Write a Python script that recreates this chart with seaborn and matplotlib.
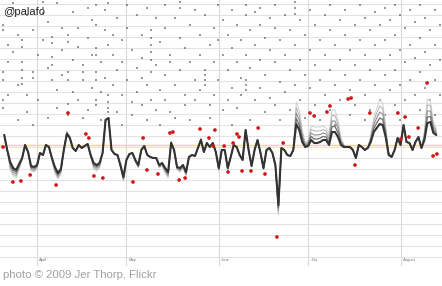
import numpy as np
import pandas as pd
import matplotlib
matplotlib.use("Agg")
import matplotlib.pyplot as plt
import seaborn as sns

# ---- data ----
start_day = -11  # days relative to April 1
line_values = [131,116,104,98,96,102,108,121,114,100,
               99,101,113,111,121,119,108,99,93,97,
               116,132,128,118,115,121,118,120,122,111,
               103,101,103,113,146,148,116,112,111,101,
               89,106,112,113,106,101,116,120,111,109,
               108,108,101,103,98,94,123,116,99,98,
               101,94,109,111,110,118,126,114,123,119,
               123,114,98,116,116,98,109,121,119,111,
               106,136,116,100,116,126,113,98,116,118,
               113,101,61,118,116,111,110,116,142,136,
               124,119,120,126,123,123,124,126,126,121,
               134,134,129,121,119,119,119,116,108,121,
               119,116,118,124,134,138,142,141,129,111,
               109,116,128,121,141,124,123,116,124,129,
               118,126,143,144,133,131]
fan_spread = [0,0,-8,-8,-8,-5,-2,0,0,-5,
              -5,-4,0,0,0,0,-2,-6,-6,-5,
              0,3,2,0,0,0,0,0,0,-2,
              -6,-6,-5,0,0,0,0,0,0,-3,
              -4,0,0,0,-2,-3,0,0,0,0,
              0,0,-3,-3,-5,-6,2,0,-3,-4,
              -3,-4,0,0,0,0,2,0,0,0,
              0,0,-3,0,0,-2,0,0,0,0,
              0,0,0,0,0,0,0,-2,0,0,
              0,-3,-10,0,0,0,0,0,22,20,
              12,4,6,14,16,16,15,14,12,12,
              22,22,17,7,2,0,0,0,0,0,
              0,0,0,7,14,20,24,22,11,3,
              0,0,0,0,0,0,0,0,0,0,
              0,9,24,22,11,6]
baseline_value = 121

red_days = [-11.4,-8.1,-5.4,-2.3,6.4,10.4,16.4,17.4,19.1,22.1,32.2,35.6,36.9,40.6,
            44.6,45.6,47.7,49.7,54.7,57.7,59.7,59.1,62.8,64.1,67.1,67.8,65.8,68.8,
            71.8,74.2,76.5,80.5,82.6,91.6,93.0,97.3,98.3,104.4,105.4,106.7,111.7,
            121.1,123.5,122.1,124.8,127.9,130.9,132.9,134.2]
red_values = [119,84,85,91,81,153,132,128,90,88,84,128,96,92,
              133,134,86,88,137,128,136,120,120,94,132,129,123,95,
              95,138,92,29,123,153,150,154,160,167,168,101,153,
              153,149,127,129,138,183,110,112]

dot_columns = [
    (-11.4,[241,236,194,186,166,158]), (-9.7,[221,204,171]), (-8.1,[263,258,214]),
    (-6.4,[231,181,146]), (-5.0,[226,219,204,196,188,182]), (-3.4,[251,171,154]),
    (-1.3,[236,194,188,141]), (0.3,[211,166]), (2.0,[264,258,253,226]),
    (3.7,[244,198,148]), (5.0,[229,223,209,201,186]), (6.7,[263,176,158]),
    (8.4,[238,216,191]), (10.4,[231,224,194,186,162,151]), (12.1,[254,206,174]),
    (13.8,[238,219,166]), (15.4,[201,194,186,148]), (17.1,[258,228,156]),
    (18.5,[246,211,178]), (19.8,[261,241,218,211,194,186,166,161]), (21.5,[204,174,146]),
    (22.8,[256,236,188]), (23.8,[263,221,171,164,158,154]), (25.5,[231,211,181]),
    (26.8,[248,196,154]), (28.5,[226,204,171,141]), (30.2,[261,238,186]),
    (31.9,[216,164,151]), (33.6,[251,198,174]), (35.2,[231,208,188,161]),
    (36.9,[258,181,146]), (38.3,[236,228,221,214,206,194,166]), (39.9,[248,201,156]),
    (41.3,[224,176,141]), (43.0,[261,238,191,166]), (44.6,[211,204,154]),
    (46.3,[248,181,148]), (48.0,[264,258,228,196]), (49.7,[218,171,161]),
    (51.3,[241,204,146]), (53.0,[256,186,166]), (54.7,[231,211,176]),
    (56.4,[251,196,191,186,181]), (58.1,[221,161,148]), (59.4,[238,204,171]),
    (60.7,[261,226,186]), (62.4,[246,211,156]), (64.1,[231,196,166]),
    (65.4,[256,218,178,141]), (67.1,[241,204,158]), (68.5,[226,188,171]),
    (70.1,[261,251,211,186,181,176]), (71.5,[236,198,146]), (73.2,[254,221,166]),
    (74.8,[258,241,206,178]), (76.5,[228,191,154]), (78.2,[248,216,168]),
    (79.9,[261,238,204,161]), (81.5,[226,184,146]), (83.2,[251,211,174]),
    (84.9,[236,196,156]), (86.6,[264,258,252,221,181]), (88.3,[246,206,166]),
    (89.9,[231,191,148]), (91.6,[256,216,178]), (93.3,[241,201,161]),
    (95.0,[226,186,146]), (96.6,[251,211,171]), (98.3,[261,236,196,156]),
    (100.0,[221,181,141]), (101.7,[246,206,166]), (103.4,[256,231,191]),
    (105.0,[216,176,151]), (106.7,[241,201,161]), (108.4,[261,226,186]),
    (110.1,[248,211,171,146]), (111.7,[236,196,156]), (113.4,[254,221,181]),
    (115.1,[241,206,166]), (116.8,[258,226,191,151]), (118.5,[246,211,176]),
    (120.1,[261,231,196,161]), (121.8,[251,216,181,146]), (123.5,[238,204,166]),
    (125.2,[256,221,186]), (126.8,[244,208,171]), (128.5,[261,228,194,156]),
    (130.2,[248,214,178]), (131.9,[236,201,166]), (133.6,[256,221,186,151]),
    (135.2,[241,206,171]),
]

month_names = ["April", "May", "June", "July", "August"]
month_days = [0, 30, 61, 91, 122]

# ---- build frames ----
days = np.arange(start_day, start_day + len(line_values))
assert len(fan_spread) == len(line_values)
vals = np.array(line_values, float)
fan = np.array(fan_spread, float)
rows = []
for k in range(5):
    for d, v, f in zip(days, vals, fan):
        rows.append({"day": d, "value": v + f * (4 - k) / 4.0, "layer": k})
lines_df = pd.DataFrame(rows)

dot_x, dot_y = [], []
for d, ys in dot_columns:
    for y in ys:
        dot_x.append(d); dot_y.append(y)
dots_df = pd.DataFrame({"day": dot_x, "value": dot_y})
red_df = pd.DataFrame({"day": red_days, "value": red_values})

# ---- plot ----
sns.set_style("white")
plt.rcParams['font.family'] = ['Liberation Sans', 'DejaVu Sans']
fig = plt.figure(figsize=(4.42, 2.86), dpi=100)
ax = fig.add_axes([0, 20/286, 1, 266/286])
ax.set_xlim(-12.42, 135.9)
ax.set_ylim(0, 266)
for s in ax.spines.values():
    s.set_visible(False)
ax.set_xticks([]); ax.set_yticks([])

for gy in np.arange(9, 266, 11):
    ax.axhline(gy, color="#e3e3e3", lw=0.8, zorder=0)
for md in month_days:
    ax.axvline(md, color="#d9d9d9", lw=0.8, zorder=0)
for md, name in zip(month_days, month_names):
    ax.text(md + 0.8, 6, name, fontsize=3, color="#777", va="center", ha="left")

sns.scatterplot(data=dots_df, x="day", y="value", ax=ax, s=3.5, color="#555",
                alpha=0.6, edgecolor="none", marker="s", legend=False, zorder=1)

ax.axhline(baseline_value, color="#f2d48a", lw=1.0, zorder=2)

palette = {0: "#cfcfcf", 1: "#b0b0b0", 2: "#909090", 3: "#6a6a6a", 4: "#333333"}
sizes = {0: 0.7, 1: 0.7, 2: 0.8, 3: 0.9, 4: 1.5}
sns.lineplot(data=lines_df, x="day", y="value", hue="layer", palette=palette,
             size="layer", sizes=sizes, ax=ax, legend=False, zorder=3,
             estimator=None, sort=False)

sns.scatterplot(data=red_df, x="day", y="value", ax=ax, s=7, color="#d01818",
                edgecolor="none", legend=False, zorder=4)

ax.set_xlabel(""); ax.set_ylabel("")

fig.text(3/442, 1 - 12/286, "@palafo", fontsize=8, color="#222", va="center", ha="left")
fig.text(3/442, 1 - 275/286, "photo \u00a9 2009 Jer Thorp, Flickr", fontsize=8.2,
         color="#a0a0a0", va="center", ha="left")

fig.savefig("out.png", dpi=100, facecolor="white")
